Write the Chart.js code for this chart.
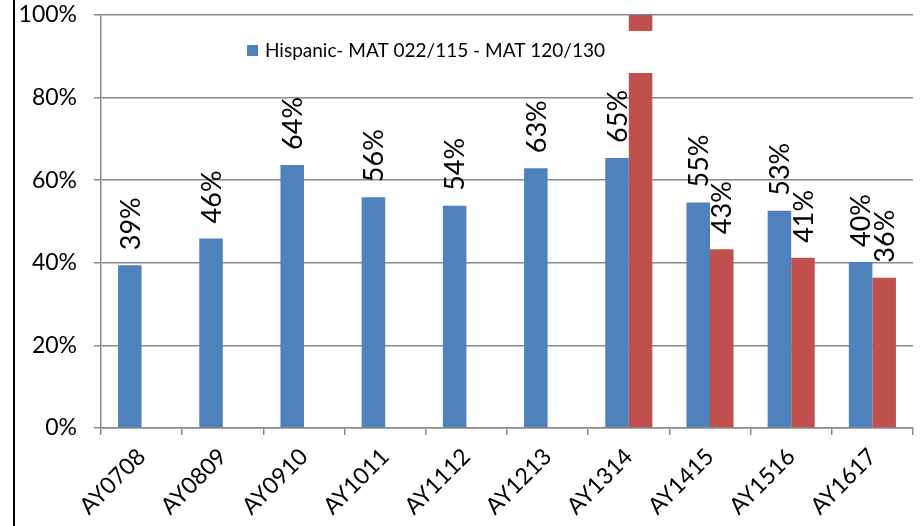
<!DOCTYPE html>
<html>
<head>
<meta charset="utf-8">
<script src="https://cdn.jsdelivr.net/npm/chart.js@4.4.1/dist/chart.umd.min.js"></script>
<style>
html,body{margin:0;padding:0;background:#fff;}
#wrap{width:923px;height:526px;position:relative;}
</style>
</head>
<body>
<div id="wrap"><canvas id="c" width="923" height="526"></canvas></div>
<script>
const categories = ["AY0708","AY0809","AY0910","AY1011","AY1112","AY1213","AY1314","AY1415","AY1516","AY1617"];
const hispanicValues = [39.4, 45.9, 63.7, 55.9, 53.8, 62.9, 65.4, 54.6, 52.6, 40.2];
const secondValues = [null, null, null, null, null, null, 105, 43.3, 41.2, 36.4];
const yTicks = [0, 20, 40, 60, 80, 100];
const legendLabel = "Hispanic- MAT 022/115 - MAT 120/130";

const BLUE = '#4F81BD', RED = '#C0504D', GRID = '#8a8a8a';
const FONT = 'Lato, "Open Sans", sans-serif';

const labelPlugin = {
  id: 'barLabels',
  afterDatasetsDraw(chart) {
    const ctx = chart.ctx;
    const yScale = chart.scales.y;
    ctx.save();
    ctx.font = '27px ' + FONT;
    ctx.fillStyle = '#000';
    ctx.textAlign = 'left';
    ctx.textBaseline = 'middle';
    chart.data.datasets.forEach((ds, di) => {
      const meta = chart.getDatasetMeta(di);
      meta.data.forEach((bar, i) => {
        const v = ds.data[i];
        if (v === null || v > yScale.max) return;
        ctx.save();
        ctx.translate(bar.x + 1, bar.y - 15);
        ctx.rotate(-Math.PI / 2);
        ctx.fillText(Math.round(v) + '%', 0, 0);
        ctx.restore();
      });
    });
    ctx.restore();
  }
};

const legendPlugin = {
  id: 'insetLegend',
  afterDraw(chart) {
    const ctx = chart.ctx;
    ctx.save();
    ctx.fillStyle = '#fff';
    ctx.fillRect(240, 31, 425, 42);
    ctx.fillStyle = BLUE;
    ctx.fillRect(247, 45, 11, 11);
    ctx.fillStyle = '#000';
    ctx.font = '19px ' + FONT;
    ctx.textAlign = 'left';
    ctx.textBaseline = 'middle';
    ctx.fillText(legendLabel, 265, 51);
    // left border line
    ctx.fillStyle = '#000';
    ctx.fillRect(13, 0, 2, 526);
    ctx.restore();
  }
};

new Chart(document.getElementById('c'), {
  type: 'bar',
  data: {
    labels: categories,
    datasets: [
      { label: legendLabel, data: hispanicValues, backgroundColor: BLUE, clip: 0,
        categoryPercentage: 0.58, barPercentage: 1.0 },
      { label: '', data: secondValues, backgroundColor: RED, clip: 0,
        categoryPercentage: 0.58, barPercentage: 1.0 }
    ]
  },
  options: {
    responsive: false,
    animation: false,
    devicePixelRatio: 1,
    layout: { padding: { top: 15, right: 10, left: 0, bottom: 0 } },
    plugins: { legend: { display: false }, tooltip: { enabled: false } },
    scales: {
      x: {
        grid: { display: true, drawOnChartArea: false, offset: true, color: GRID, lineWidth: 1.5, tickLength: 7 },
        border: { display: true, color: GRID, width: 1.5 },
        ticks: { color: '#000', font: { family: FONT, size: 23 }, minRotation: 45, maxRotation: 45, padding: 8, autoSkip: false },
        afterFit(s) { s.height = 98; s.paddingLeft = 0; s.paddingRight = 0; }
      },
      y: {
        min: 0, max: 100,
        afterBuildTicks(s) { s.ticks = yTicks.map(v => ({ value: v })); },
        grid: { color: GRID, lineWidth: 1.5, tickLength: 7 },
        border: { display: true, color: GRID, width: 1.5 },
        ticks: { color: '#000', font: { family: FONT, size: 23 }, padding: 17, callback: v => v + '%' },
        afterFit(s) { s.width = 101; s.paddingTop = 0; s.paddingBottom = 0; }
      }
    }
  },
  plugins: [labelPlugin, legendPlugin]
});
</script>
</body>
</html>
